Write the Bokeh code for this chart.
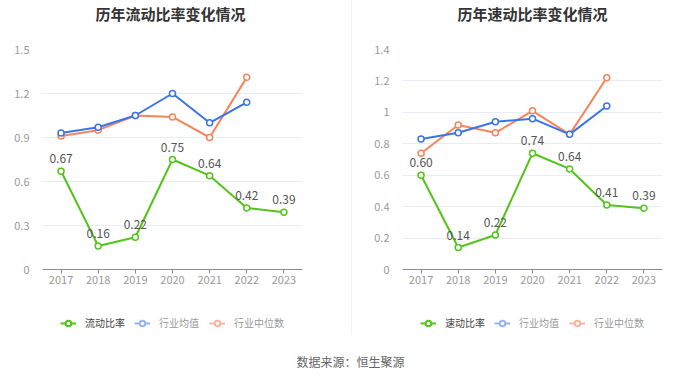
from bokeh.plotting import figure
from bokeh.models import (ColumnDataSource, FactorRange, Range1d, FixedTicker, Legend,
                          LegendItem, Label, Div)
from bokeh.layouts import row, column
from bokeh.core.properties import value
from bokeh.embed import file_html
from bokeh.resources import INLINE

# ---------------- data ----------------
years = ["2017", "2018", "2019", "2020", "2021", "2022", "2023"]
ind_years = ["2017", "2018", "2019", "2020", "2021", "2022"]

current_ratio = [0.67, 0.16, 0.22, 0.75, 0.64, 0.42, 0.39]
current_ind_mean = [0.93, 0.97, 1.05, 1.20, 1.00, 1.14]
current_ind_median = [0.91, 0.95, 1.05, 1.04, 0.90, 1.31]
current_ticks = [0, 0.3, 0.6, 0.9, 1.2, 1.5]
current_tick_labels = ["0", "0.3", "0.6", "0.9", "1.2", "1.5"]

quick_ratio = [0.60, 0.14, 0.22, 0.74, 0.64, 0.41, 0.39]
quick_ind_mean = [0.83, 0.87, 0.94, 0.96, 0.86, 1.04]
quick_ind_median = [0.74, 0.92, 0.87, 1.01, 0.86, 1.22]
quick_ticks = [0, 0.2, 0.4, 0.6, 0.8, 1.0, 1.2, 1.4]
quick_tick_labels = ["0", "0.2", "0.4", "0.6", "0.8", "1", "1.2", "1.4"]

titles = ["历年流动比率变化情况", "历年速动比率变化情况"]
series_names = [["流动比率", "行业均值", "行业中位数"], ["速动比率", "行业均值", "行业中位数"]]
source_text = "数据来源：恒生聚源"

# ---------------- style ----------------
FONT = "Noto Sans CJK SC"
FONT_V = value(FONT)
GREEN = "#52C41A"
BLUE = "#3A74E8"
ORANGE = "#F7845A"
BLUE_LIGHT = "#94B4F4"
ORANGE_LIGHT = "#F9B69C"
GRID = "#E8ECF4"


def blank_fig(width, height, x_range=None, y_range=None):
    f = figure(width=width, height=height,
               x_range=x_range if x_range is not None else Range1d(0, width),
               y_range=y_range if y_range is not None else Range1d(0, height),
               output_backend="svg", toolbar_location=None, min_border=0,
               frame_align=False)
    f.title.visible = False
    f.axis.visible = False
    f.grid.visible = False
    f.outline_line_color = None
    return f


def make_title(text, width, cx):
    f = blank_fig(width, 24)
    f.add_layout(Label(x=cx, y=11, text=text, text_align="center",
                       text_baseline="middle", text_font=FONT, text_font_size="15px",
                       text_font_style="bold", text_color="#333333"))
    return f


def make_chart(main_vals, mean_vals, median_vals, ticks, tick_labels, ymax,
               width, border_left, border_right):
    p = figure(width=width, height=276, x_range=FactorRange(*years),
               y_range=Range1d(0, ymax), output_backend="svg", toolbar_location=None,
               min_border_left=border_left, min_border_right=border_right,
               min_border_top=25, min_border_bottom=31, frame_align=False)
    p.title.visible = False
    p.outline_line_color = None

    p.xgrid.grid_line_color = None
    p.ygrid.grid_line_color = GRID
    p.ygrid.grid_line_width = 1
    p.ygrid.ticker = FixedTicker(ticks=ticks)

    ya = p.yaxis[0]
    ya.ticker = FixedTicker(ticks=ticks)
    ya.major_label_overrides = {t_: l for t_, l in zip(ticks, tick_labels)}
    ya.axis_line_color = None
    ya.major_tick_line_color = None
    ya.minor_tick_line_color = None
    ya.major_label_standoff = 7
    ya.major_label_text_font = FONT
    ya.major_label_text_font_size = "11px"
    ya.major_label_text_color = "#9A9A9A"

    xa = p.xaxis[0]
    xa.axis_line_color = "#8C8C8C"
    xa.axis_line_width = 1
    xa.major_tick_line_color = "#8C8C8C"
    xa.major_tick_in = 0
    xa.major_tick_out = 4
    xa.major_label_standoff = 2
    xa.major_label_text_font = FONT
    xa.major_label_text_font_size = "11px"
    xa.major_label_text_color = "#9A9A9A"

    src_main = ColumnDataSource(dict(x=years, y=main_vals,
                                     lbl=["%.2f" % v for v in main_vals]))
    src_mean = ColumnDataSource(dict(x=ind_years, y=mean_vals))
    src_med = ColumnDataSource(dict(x=ind_years, y=median_vals))

    for src, col in ((src_med, ORANGE), (src_mean, BLUE)):
        p.line("x", "y", source=src, line_color=col, line_width=2)
        p.scatter("x", "y", source=src, size=6, marker="circle", line_color=col,
                  fill_color="white", line_width=1.5)
    p.line("x", "y", source=src_main, line_color=GREEN, line_width=2)
    p.scatter("x", "y", source=src_main, size=6, marker="circle", line_color=GREEN,
              fill_color="white", line_width=1.5)
    p.text("x", "y", text="lbl", source=src_main, y_offset=-8, text_align="center",
           text_baseline="bottom", text_font=FONT_V, text_font_size="12px",
           text_color="#555555")
    return p


def make_legend(names, series, width, x1, x2):
    # the series are drawn in a y range far above their values, so only the
    # legend glyphs that refer to them are visible here
    f = blank_fig(width, 35, x_range=FactorRange(*years), y_range=Range1d(100, 101))

    def legend_pair(xs, ys, col):
        src = ColumnDataSource(dict(x=xs, y=ys))
        l = f.line("x", "y", source=src, line_color=col, line_width=2)
        s = f.scatter("x", "y", source=src, size=9, marker="circle", line_color=col,
                      fill_color="white", line_width=2)
        return [l, s]

    main_vals, mean_vals, median_vals = series
    leg1 = Legend(items=[LegendItem(label=names[0],
                                    renderers=legend_pair(years, main_vals, GREEN))],
                  location=(x1, 5), orientation="horizontal")
    leg2 = Legend(items=[LegendItem(label=names[1],
                                    renderers=legend_pair(ind_years, mean_vals, BLUE_LIGHT)),
                         LegendItem(label=names[2],
                                    renderers=legend_pair(ind_years, median_vals, ORANGE_LIGHT))],
                  location=(x2, 5), orientation="horizontal")
    for lg, tc in ((leg1, "#444444"), (leg2, "#9A9A9A")):
        lg.label_text_font = FONT
        lg.label_text_font_size = "10px"
        lg.label_text_color = tc
        lg.label_text_baseline = "middle"
        lg.glyph_width = 16
        lg.glyph_height = 14
        lg.label_height = 14
        lg.label_standoff = 9
        lg.spacing = 10
        lg.padding = 0
        lg.margin = 0
        lg.border_line_color = None
        lg.background_fill_alpha = 0
        f.add_layout(lg, "center")
    return f


# left half: page x 0..351, right half: 352..700
t1 = make_title(titles[0], 351, 170)
f1 = make_chart(current_ratio, current_ind_mean, current_ind_median,
                current_ticks, current_tick_labels, 1.5, 351, 42, 49)
l1 = make_legend(series_names[0], (current_ratio, current_ind_mean, current_ind_median),
                 351, 60, 134)

t2 = make_title(titles[1], 348, 180)
f2 = make_chart(quick_ratio, quick_ind_mean, quick_ind_median,
                quick_ticks, quick_tick_labels, 1.4, 348, 50, 38)
l2 = make_legend(series_names[1], (quick_ratio, quick_ind_mean, quick_ind_median),
                 348, 68, 142)

sep = Div(text="", width=1, height=335, margin=0,
          styles={"background-color": "#F2F2F2"})

f3 = blank_fig(700, 43)
f3.add_layout(Label(x=350, y=17, text=source_text, text_align="center",
                    text_baseline="middle", text_font=FONT, text_font_size="12px",
                    text_color="#666666"))

layout = column(row(column(t1, f1, l1, spacing=0), sep,
                    column(t2, f2, l2, spacing=0), spacing=0),
                f3, spacing=0)

open("out.html", "w").write(file_html(layout, INLINE))
